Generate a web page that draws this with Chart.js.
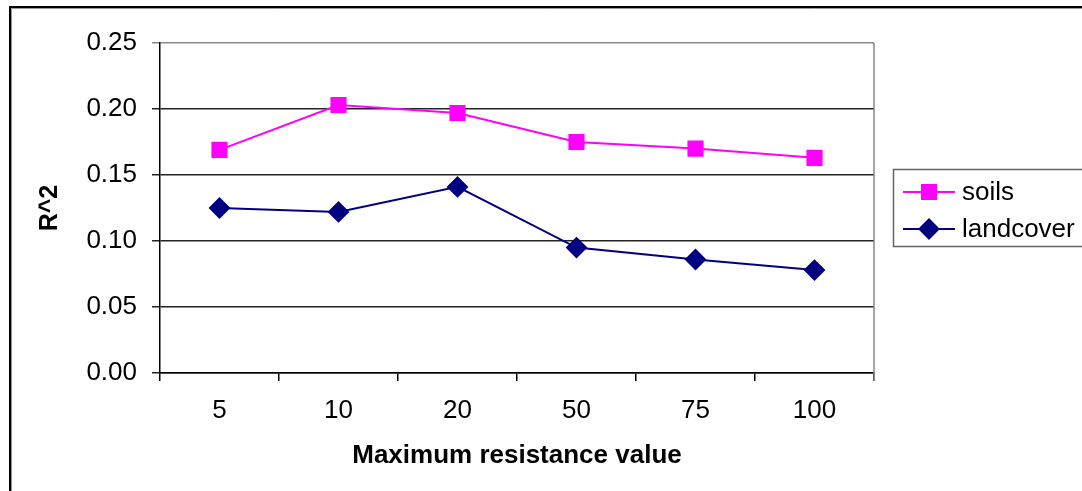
<!DOCTYPE html>
<html>
<head>
<meta charset="utf-8">
<script src="https://cdn.jsdelivr.net/npm/chart.js@4"></script>
<style>
  html, body { margin: 0; padding: 0; background: #fff; }
  #wrap { width: 1082px; height: 491px; position: relative; }
</style>
</head>
<body>
<div id="wrap"><canvas id="chart" width="1082" height="491"></canvas></div>
<script>
'use strict';

// data
const categories = ['5', '10', '20', '50', '75', '100'];
const soils      = [0.169, 0.203, 0.197, 0.175, 0.170, 0.163];
const landcover  = [0.125, 0.122, 0.141, 0.095, 0.086, 0.078];
const yTicks     = [0, 0.05, 0.10, 0.15, 0.20, 0.25];

const FONT = '"Liberation Sans", Arial, sans-serif';

// white page + outer black frame (left / top only, rest runs off the picture)
const framePlugin = {
  id: 'frame',
  beforeDraw(chart) {
    const c = chart.ctx;
    c.save();
    c.fillStyle = '#fff';
    c.fillRect(0, 0, chart.width, chart.height);
    c.strokeStyle = '#000';
    c.lineWidth = 2;
    c.beginPath();
    c.moveTo(10, chart.height);
    c.lineTo(10, 7);
    c.lineTo(chart.width, 7);
    c.stroke();
    c.strokeStyle = '#999';
    c.lineWidth = 1;
    c.beginPath();
    c.moveTo(11.5, chart.height);
    c.lineTo(11.5, 8.5);
    c.lineTo(chart.width, 8.5);
    c.stroke();
    c.restore();
  },
  afterDatasetsDraw(chart) {
    // right edge of plot area
    const a = chart.chartArea, c = chart.ctx;
    c.save();
    c.strokeStyle = '#888';
    c.lineWidth = 1.5;
    c.beginPath();
    c.moveTo(a.right, a.top);
    c.lineTo(a.right, a.bottom + 8);
    c.stroke();
    c.restore();
  }
};

// Excel-like legend: box, line with marker, label
const legendPlugin = {
  id: 'xlLegend',
  afterDraw(chart) {
    const c = chart.ctx;
    c.save();
    c.strokeStyle = '#666';
    c.lineWidth = 1.5;
    c.strokeRect(893.5, 169.5, 220, 77);
    const rows = [192, 229];
    chart.data.datasets.forEach((ds, i) => {
      const y = rows[i];
      c.strokeStyle = ds.borderColor;
      c.lineWidth = ds.borderWidth;
      c.beginPath();
      c.moveTo(903, y);
      c.lineTo(955, y);
      c.stroke();
      c.fillStyle = ds.pointBackgroundColor;
      c.strokeStyle = ds.pointBorderColor;
      Chart.helpers.drawPoint(c, { pointStyle: ds.pointStyle, radius: ds.pointRadius, rotation: 0, borderWidth: 1 }, 929, y);
      c.fillStyle = '#000';
      c.font = '26px ' + FONT;
      c.textBaseline = 'middle';
      c.textAlign = 'left';
      c.fillText(ds.label, 962, y + 1);
    });
    c.restore();
  }
};

new Chart(document.getElementById('chart'), {
  type: 'line',
  data: {
    labels: categories,
    datasets: [{
      label: 'soils',
      data: soils,
      borderColor: '#ff00ff',
      borderWidth: 2,
      pointStyle: 'rect',
      pointRadius: 10,
      pointHoverRadius: 10,
      pointBackgroundColor: '#ff00ff',
      pointBorderColor: '#ff00ff',
      tension: 0
    }, {
      label: 'landcover',
      data: landcover,
      borderColor: '#000080',
      borderWidth: 2,
      pointStyle: 'rectRot',
      pointRadius: 9.5,
      pointHoverRadius: 9.5,
      pointBackgroundColor: '#000080',
      pointBorderColor: '#000080',
      tension: 0
    }]
  },
  options: {
    responsive: false,
    animation: false,
    layout: { padding: { left: 0, top: 43, right: 208, bottom: 0 } },
    plugins: { legend: { display: false }, tooltip: { enabled: false } },
    scales: {
      x: {
        offset: true,
        afterFit: s => { s.height = 118; },
        grid: { offset: true, drawOnChartArea: false, drawTicks: true, tickLength: 8, color: '#000', lineWidth: 1.5 },
        border: { display: true, color: '#000', width: 1.5 },
        ticks: { color: '#000', padding: 14, font: { family: FONT, size: 26 }, maxRotation: 0 },
        title: { display: true, text: 'Maximum resistance value', color: '#000', font: { family: FONT, size: 26, weight: 'bold' }, padding: { top: 0, bottom: 20 } }
      },
      y: {
        min: 0,
        max: 0.25,
        afterFit: s => { s.width = 160; },
        afterBuildTicks: s => { s.ticks = yTicks.map(v => ({ value: v })); },
        grid: {
          color: c => (c.tick && c.tick.value === 0.25 ? '#888' : '#222'),
          lineWidth: 1.5,
          drawTicks: true,
          tickLength: 8
        },
        border: { display: true, color: '#000', width: 1.5 },
        ticks: { color: '#000', padding: 15, font: { family: FONT, size: 26 }, callback: v => Number(v).toFixed(2) },
        title: { display: true, text: 'R^2', color: '#000', font: { family: FONT, size: 25, weight: 'bold' }, padding: { top: 35, bottom: 0 } }
      }
    }
  },
  plugins: [framePlugin, legendPlugin]
});
</script>
</body>
</html>
